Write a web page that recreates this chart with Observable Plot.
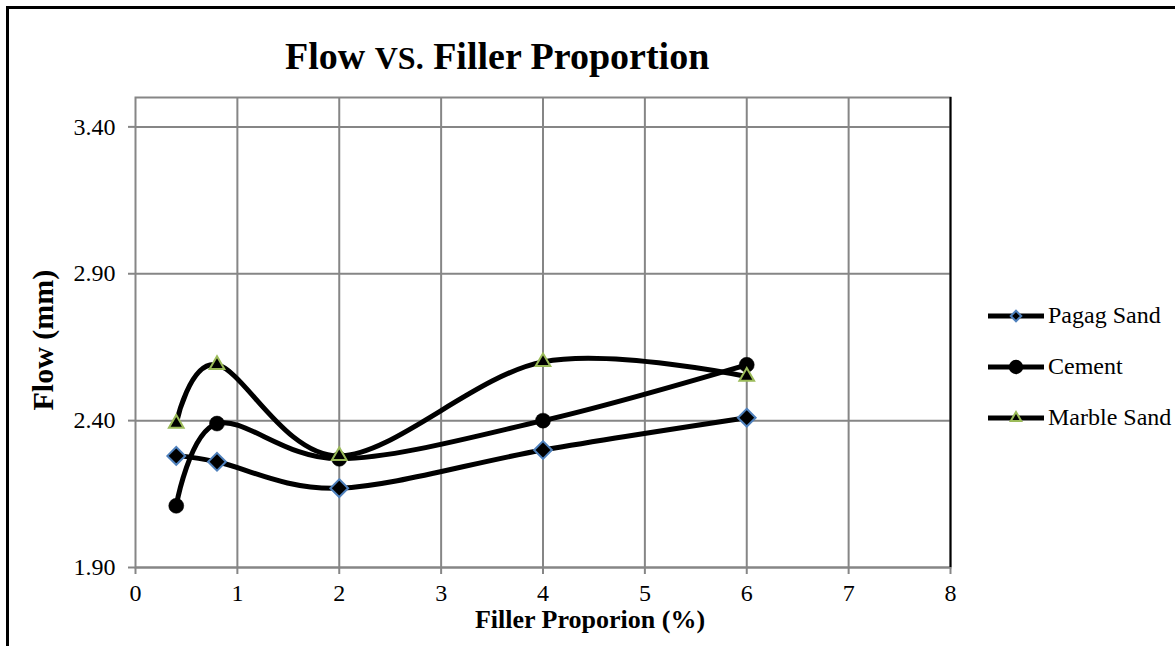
<!DOCTYPE html>
<html>
<head>
<meta charset="utf-8">
<script src="https://cdn.jsdelivr.net/npm/d3@7"></script>
<script src="https://cdn.jsdelivr.net/npm/@observablehq/plot@0.6"></script>
<style>
  html, body { margin: 0; padding: 0; background: #fff; }
  #wrap { position: relative; width: 1175px; height: 646px; overflow: hidden; font-family: "Liberation Serif", "Times New Roman", serif; }
  #border { position: absolute; left: 6px; top: 6px; right: -10px; bottom: -10px; border-top: 3px solid #000; border-left: 3px solid #000; }
  #title { position: absolute; left: 285px; top: 37px; font-size: 38px; line-height: 38px; font-weight: bold; white-space: nowrap; color: #000; font-family: "Liberation Serif", "Times New Roman", serif; }
  #title .vs { font-size: 32px; }
  #chart { position: absolute; left: 0; top: 0; }
  #legend { position: absolute; left: 986px; top: 290px; }
  .item { display: flex; align-items: center; height: 51px; font-size: 24px; color: #000; white-space: nowrap; font-family: "Liberation Serif", "Times New Roman", serif; }
  .item svg { margin-right: 2px; }
</style>
</head>
<body>
<div id="wrap">
  <div id="border"></div>
  <div id="title">Flow <span class="vs">VS.</span> Filler Proportion</div>
  <div id="chart"></div>
  <div id="legend"></div>
</div>
<script>
// Filler proportion (%) tested for each filler type
const fillerPct = [0.4, 0.8, 2, 4, 6];
// Flow (mm) per series
const pagagSand = [2.28, 2.26, 2.17, 2.30, 2.41];
const cement = [2.11, 2.39, 2.27, 2.40, 2.59];
const marbleSand = [2.39, 2.59, 2.28, 2.60, 2.55];
const seriesNames = ["Pagag Sand", "Cement", "Marble Sand"];
const xTicks = [0, 1, 2, 3, 4, 5, 6, 7, 8];
const yTicks = [1.90, 2.40, 2.90, 3.40];

const seriesValues = [pagagSand, cement, marbleSand];
const rows = seriesNames.flatMap((name, i) =>
  fillerPct.map((x, j) => ({series: name, x, y: seriesValues[i][j]}))
);
const bySeries = name => rows.filter(d => d.series === name);

const gridColor = "#868686";
const fontFamily = '"Liberation Serif", "Times New Roman", serif';

const chart = Plot.plot({
  width: 1175,
  height: 646,
  marginLeft: 135,
  marginRight: 225,
  marginTop: 97,
  marginBottom: 79,
  style: {fontFamily, fontSize: "24px", color: "#000", background: "transparent"},
  x: {domain: [0, 8]},
  y: {domain: [1.9, 3.5]},
  marks: [
    Plot.gridX(xTicks.slice(1, -1), {stroke: gridColor, strokeOpacity: 1, strokeWidth: 2}),
    Plot.gridY(yTicks, {stroke: gridColor, strokeOpacity: 1, strokeWidth: 2}),
    Plot.frame({stroke: gridColor, strokeWidth: 2}),
    Plot.ruleX([8], {stroke: "#000", strokeWidth: 2}),
    Plot.axisX(xTicks, {tickSize: 7, tickPadding: 9, stroke: gridColor, strokeWidth: 2, fill: "#000", fontSize: 24, fontFamily, label: null}),
    Plot.axisY(yTicks, {tickSize: 7, tickPadding: 13, tickFormat: d3.format(".2f"), stroke: gridColor, strokeWidth: 2, fill: "#000", fontSize: 24, fontFamily, label: null}),
    Plot.line(rows, {x: "x", y: "y", z: "series", stroke: "#000", strokeWidth: 5, curve: "cardinal"}),
    Plot.dot(bySeries("Pagag Sand"), {x: "x", y: "y", symbol: "diamond2", r: 8, fill: "#000", stroke: "#4f81bd", strokeWidth: 2}),
    Plot.dot(bySeries("Cement"), {x: "x", y: "y", symbol: "circle", r: 7.5, fill: "#000", stroke: "#000", strokeWidth: 0.5}),
    Plot.dot(bySeries("Marble Sand"), {x: "x", y: "y", symbol: "triangle2", r: 7, fill: "#000", stroke: "#9bbb59", strokeWidth: 2}),
    Plot.text(["Flow (mm)"], {frameAnchor: "left", rotate: -90, dx: -92, dy: 78, fontSize: 30, fontWeight: "bold", fontFamily, fill: "#000"}),
    Plot.text(["Filler Proporion (%)"], {frameAnchor: "bottom", dx: 47, dy: 60, fontSize: 26, fontWeight: "bold", fontFamily, fill: "#000"})
  ]
});
document.getElementById("chart").append(chart);

// Legend: line sample with the series marker, then the series name
const legendSymbols = {
  "Pagag Sand": {type: d3.symbolDiamond2, size: 70, stroke: "#4f81bd"},
  "Cement": {type: d3.symbolCircle, size: 120, stroke: "#000"},
  "Marble Sand": {type: d3.symbolTriangle2, size: 80, stroke: "#9bbb59"}
};
const legend = d3.select("#legend");
seriesNames.forEach(name => {
  const item = legend.append("div").attr("class", "item");
  const svg = item.append("svg").attr("width", 60).attr("height", 20);
  svg.append("line").attr("x1", 2).attr("x2", 58).attr("y1", 10).attr("y2", 10)
    .attr("stroke", "#000").attr("stroke-width", 5);
  const s = legendSymbols[name];
  svg.append("path").attr("transform", "translate(30,10)")
    .attr("d", d3.symbol(s.type, s.size)())
    .attr("fill", "#000").attr("stroke", s.stroke).attr("stroke-width", 2);
  item.append("span").text(name);
});
</script>
</body>
</html>
